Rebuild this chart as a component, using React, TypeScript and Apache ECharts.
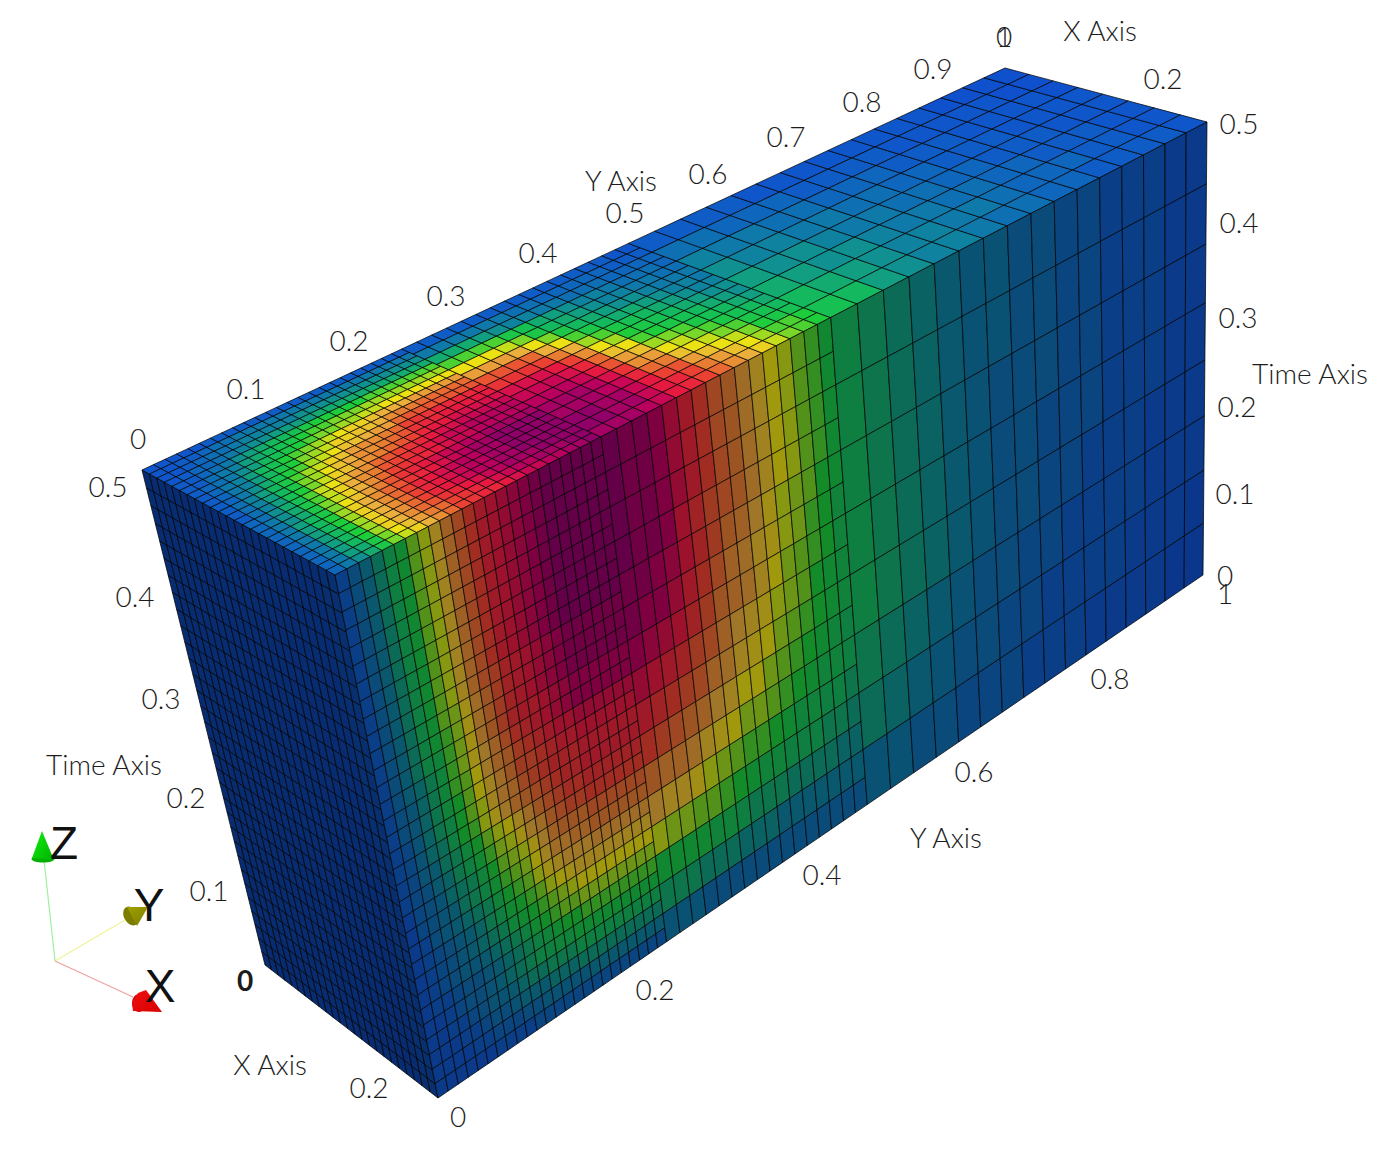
import React, { useEffect, useRef } from "react";
import * as echarts from "echarts";

// Cell values, on a 0-35 scale, one character per mesh cell (base 36).
// Front face (x = max): rows run from t = 0.5 down to t = 0.
const frontFine = [
  "2468acfhknprtuvwxyzzzzzz","2468acfhknprtuvwxyzzzzzz","2468acfhknprtuvwxyzzzzzz","2468acfhknprtuvwxyzzzzzz",
  "2468acfhknprtuvwxyzzzzzz","2468acfhknprtuvwxyzzzzzz","2468acfhknprtuvwxyzzzzzz","2468acfhknprtuvwxyzzzzzz",
  "2468acfhknprtuvwxyzzzzzz","2468acfhknpqstuvwxyyyyyy","2468acfgjmoqstuvwxyyyyyy","2468acegjmoqstuvwxyyyyyy",
  "2468abegjmoqsttuvwxxxxxx","24679begjlnprstuvwxxxxxx","24579befilnoqrstuuvvvvvv","24579bdfikmoqqrsttuuuuuu",
  "23579adfhkmnpqrssstttttt","23578adehjlnopqrsstttttt","235689bdfhikmopqrrssssss","234679aceghjlmopqqrrrrrr",
  "1345789bdfghjlnooopppppp","1345689acefgikmmnnoooooo","12456789bdefhjklllmmmmmm","12345679acdefhijkkkkkkkk",
  "123456789bcdefghiiiiiiii","1234556789acdeffgggggggg","12234456789abcddeeeeeeee","11234456789aabbccccccccc",
  "112234556788999aaaaaaaaa","111223445666777888888888","111122333445555566666666","111111222233333333333333",
];
const frontMid = [
  "zyyxvtrpomkihfec","zyyxvtrpomkihfec","zyyxvtrpomkihfec","zyyxusqpomkihfec",
  "yyxwusqonljhgfdc","yxxvtrpnmkjhgedb","xwvusqonmkigfedb","vutsqpnlkjhgfdcb",
  "tsrqpnmkjigfedcb","rqponlkiigfedcba","onnmkjiggfedcbba","lkkjhgfeedcbbaa9",
  "hggffedcbbaaa998","ccccbba999888877","9998887776666666","5554444444444444",
];
const frontCoarse = [
  "a987655443322211","a987655443322211","a987654443322211","a987654433322211",
  "a987654433222111","9876544332222111","8765443322221110","5544333222111100",
];
// Top face (t = 0.5): rows run from x = 0 (far edge) to x = max (near edge).
const topFine = [
  "111112222222222222222222","112234455555555555555555","112344566666777777777777","123345677888899999999999",
  "22345789aabcdddddeeeeeee","2245689abcdeefffgggggggg","234578abcdeffgghhiiiiiii","23568abdefghijjklllmmmmm",
  "23568acdfghjjkklnooppppp","23579bdeghikklmmpqqqqqqq","2468aceghjkmnnoprssttttt","2468acfgiklnnopqsttuuuuu",
  "2468bdfhjkmnopqrtuuvvvvv","3479behikmnpqrstuvvwwwww","3579cehjlnoqrstuvwwxxxxx","3579cfhjlnprsttuvwwxxxxx",
  "358acfikmoqstuvwwxxyyyyy","358adgjlnpqstuvwxyyzzzzz","358adgjlnprtuvwxxyyzzzzz","358adgjlnprtuvwxxyyzzzzz",
  "358adgjlnprtuvwxxyyzzzzz","358adgjlnpqstuvwxyyyzzzz","3589cfikmoprstuvwxxyyyzz","3579cfhjlnprsttuvwwxxyyz",
];
const topMid = [
  "2222222222222211","5555554433333222","9998766554443333","eeeecb9876654443",
  "iiihfca987665544","mmmlifca98776555","qqqplieca9987665","sssrolgecba98766",
  "vvvurnigdcba9877","wwwvtpkiedcba987","xxxwuqmkgfecba98","yyyxvsnmihfecba9",
  "yyyxwtpokihfecba","zzyywurqmkihfdcb","zzyywutromkigeed","yyyxwutrpnljhfed",
];
const topCoarse = [
  "2222111111110000","4433322221111100","6554433322211110","7665544332221111",
  "8776554433222111","9877655443322211","a987665543332211","ba87665443322221",
];
// Left face (y = 0): uniformly near the bottom of the scale.
const leftRow = "000000000000000000000011";
const leftCells = Array.from({ length: 32 }, () => leftRow);

// Tick labels
const yTicksFar = ["0", "0.1", "0.2", "0.3", "0.4", "0.5", "0.6", "0.7", "0.8", "0.9"];
const yTicksNear = ["0.2", "0.4", "0.6", "0.8"];
const timeTicksLeft = ["0.5", "0.4", "0.3", "0.2", "0.1"];
const timeTicksRight = ["0.5", "0.4", "0.3", "0.2", "0.1"];

// ---- layout ----
const W = 1389;
const H = 1154;
type P = [number, number];
const FACE_CORNERS: P[][] = [
  [[142, 470], [335, 575], [438, 1098], [265, 965]], // left
  [[142, 470], [1005, 68], [1207, 122], [335, 575]], // top
  [[335, 575], [1207, 122], [1203, 575], [438, 1098]], // front
];
const FACE_SHADE = [0.55, 1, 0.68];

function homography(q: P[]) {
  const [[x0, y0], [x1, y1], [x2, y2], [x3, y3]] = q;
  const dx1 = x1 - x2, dx2 = x3 - x2, sx = x0 - x1 + x2 - x3;
  const dy1 = y1 - y2, dy2 = y3 - y2, sy = y0 - y1 + y2 - y3;
  const den = dx1 * dy2 - dx2 * dy1;
  const g = (sx * dy2 - dx2 * sy) / den;
  const h = (dx1 * sy - sx * dy1) / den;
  const a = x1 - x0 + g * x1, b = x3 - x0 + h * x3;
  const d = y1 - y0 + g * y1, e = y3 - y0 + h * y3;
  return (s: number, t: number): P => {
    const w = g * s + h * t + 1;
    return [(a * s + b * t + x0) / w, (d * s + e * t + y0) / w];
  };
}
const PROJECT = FACE_CORNERS.map(homography);

const COLOR_STOPS: [number, number[]][] = [
  [0, [15, 80, 205]], [2, [15, 92, 198]], [6, [15, 130, 160]], [10, [20, 185, 95]],
  [13, [30, 205, 60]], [15, [120, 215, 40]], [18, [235, 225, 20]], [21, [235, 175, 60]],
  [24, [230, 125, 50]], [27, [235, 65, 50]], [30, [230, 25, 65]], [33, [185, 0, 95]], [35, [145, 0, 105]],
];
function colorOf(v: number, shade: number) {
  let i = 0;
  while (i < COLOR_STOPS.length - 2 && v > COLOR_STOPS[i + 1][0]) i++;
  const [a, ca] = COLOR_STOPS[i];
  const [b, cb] = COLOR_STOPS[i + 1];
  const f = Math.min(1, Math.max(0, (v - a) / (b - a)));
  const c = ca.map((x, k) => Math.round((x + (cb[k] - x) * f) * shade));
  return `rgb(${c[0]},${c[1]},${c[2]})`;
}

// face, s0, s1, t0, t1, value
const cells: number[][] = [];
function addZone(face: number, rows: string[], s0: number, s1: number) {
  const nr = rows.length;
  rows.forEach((row, r) => {
    const nc = row.length;
    for (let c = 0; c < nc; c++) {
      const a = s0 + ((s1 - s0) * c) / nc;
      const b = s0 + ((s1 - s0) * (c + 1)) / nc;
      cells.push([face, a, b, r / nr, (r + 1) / nr, parseInt(row[c], 36)]);
    }
  });
}
addZone(0, leftCells, 0, 1);
addZone(1, topFine, 0, 0.25);
addZone(1, topMid, 0.25, 0.5);
addZone(1, topCoarse, 0.5, 1);
addZone(2, frontFine, 0, 0.25);
addZone(2, frontMid, 0.25, 0.5);
addZone(2, frontCoarse, 0.5, 1);

const yFarPos: P[] = [[138, 438], [246, 388], [349, 340], [446, 295], [538, 252], [625, 212], [708, 173], [786, 136], [862, 101], [933, 68]];
const yNearPos: P[] = [[655, 989], [822, 874], [974, 771], [1110, 678]];
const tLeftPos: P[] = [[108, 486], [135, 596], [161, 698], [186, 797], [209, 890]];
const tRightPos: P[] = [[1239, 123], [1239, 222], [1238, 317], [1237, 406], [1235, 493]];

const FONT = "300 28px Lato";
const txt = (text: string, x: number, y: number, font = FONT, fill = "#1c1c1c") => ({
  type: "text", x, y, silent: true,
  style: { text, font, fill, align: "center", verticalAlign: "middle" },
});
const zip = (labels: string[], pos: P[]) => labels.map((l, i) => txt(l, pos[i][0], pos[i][1]));

const cone = (pts: P[], e: { cx: number; cy: number; rx: number; ry: number; rot: number }, c0: string, c1: string) => {
  const fill = new echarts.graphic.LinearGradient(0, 0, 1, 1, [{ offset: 0, color: c0 }, { offset: 1, color: c1 }]);
  return [
    { type: "ellipse", x: e.cx, y: e.cy, rotation: e.rot, shape: { cx: 0, cy: 0, rx: e.rx, ry: e.ry }, style: { fill: c1 }, silent: true },
    { type: "polygon", shape: { points: pts }, style: { fill }, silent: true },
  ];
};

const graphics: any[] = [
  ...zip(yTicksFar, yFarPos),
  ...zip(yTicksNear, yNearPos),
  ...zip(timeTicksLeft, tLeftPos),
  ...zip(timeTicksRight, tRightPos),
  txt("0", 1004, 36), txt("1", 1004, 36),
  txt("X Axis", 1100, 30), txt("0.2", 1163, 78),
  txt("Time Axis", 1310, 373), txt("Y Axis", 621, 180),
  txt("0", 1225, 575), txt("1", 1225, 593),
  txt("Y Axis", 946, 837), txt("0", 458, 1116), txt("0.2", 369, 1087),
  txt("X Axis", 270, 1064), txt("0", 245, 980, "bold 28px Lato"), txt("Time Axis", 104, 764),
  { type: "line", shape: { x1: 55, y1: 961, x2: 44, y2: 860 }, style: { stroke: "#9df09d", lineWidth: 1.2 }, silent: true },
  { type: "line", shape: { x1: 55, y1: 961, x2: 125, y2: 920 }, style: { stroke: "#f2f296", lineWidth: 1.2 }, silent: true },
  { type: "line", shape: { x1: 55, y1: 961, x2: 133, y2: 997 }, style: { stroke: "#f0a0a0", lineWidth: 1.2 }, silent: true },
  ...cone([[42, 831], [32, 858], [54, 860]], { cx: 43, cy: 859, rx: 11.5, ry: 3.5, rot: 0 }, "#10f010", "#00b000"),
  ...cone([[148, 907], [127, 907], [137, 926]], { cx: 131, cy: 916, rx: 7, ry: 10, rot: 0.5 }, "#a0a000", "#7c7c00"),
  ...cone([[162, 1012], [146, 990], [138, 993], [132, 1003], [133, 1011]], { cx: 139, cy: 1003, rx: 7, ry: 9, rot: 0 }, "#f01010", "#d80000"),
  txt("Z", 64, 843, "46px 'Liberation Sans'", "#111"),
  txt("Y", 149, 905, "46px 'Liberation Sans'", "#111"),
  txt("X", 160, 986, "46px 'Liberation Sans'", "#111"),
];

export default function App() {
  const ref = useRef<HTMLDivElement>(null);
  useEffect(() => {
    document.body.style.margin = "0";
    const chart = echarts.init(ref.current!, undefined, { renderer: "svg" });
    chart.setOption({
      animation: false,
      backgroundColor: "#ffffff",
      grid: { left: 0, right: 0, top: 0, bottom: 0 },
      xAxis: { type: "value", min: 0, max: W, show: false },
      yAxis: { type: "value", min: 0, max: H, inverse: true, show: false },
      graphic: graphics,
      series: [
        {
          type: "custom",
          coordinateSystem: "cartesian2d",
          silent: true,
          progressive: 0,
          clip: false,
          data: cells,
          encode: { x: 1, y: 3 },
          renderItem: (_p: any, api: any) => {
            const face = api.value(0);
            const [s0, s1, t0, t1] = [api.value(1), api.value(2), api.value(3), api.value(4)];
            const proj = PROJECT[face];
            const points = [proj(s0, t0), proj(s1, t0), proj(s1, t1), proj(s0, t1)].map((p) => api.coord(p));
            return {
              type: "polygon",
              shape: { points },
              style: { fill: colorOf(api.value(5), FACE_SHADE[face]), stroke: "rgba(0,0,0,0.8)", lineWidth: 0.9 },
            };
          },
        },
      ],
    });
    return () => chart.dispose();
  }, []);
  return <div ref={ref} style={{ width: W, height: H }} />;
}
